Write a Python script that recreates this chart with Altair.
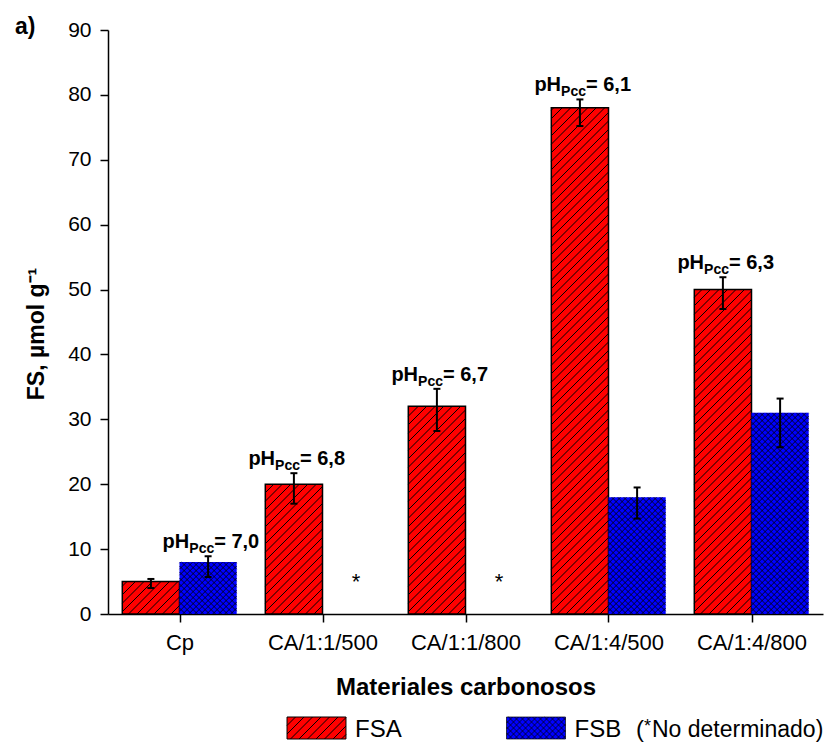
import json
import altair as alt
import pandas as pd

# ---------------- data ----------------
categories = ["Cp", "CA/1:1/500", "CA/1:1/800", "CA/1:4/500", "CA/1:4/800"]
series = ["FSA", "FSB"]

fsa_values = [5.0, 20.0, 32.0, 78.0, 50.0]
fsa_err_low = [4.0, 17.0, 28.2, 75.2, 47.0]
fsa_err_high = [5.4, 21.7, 34.7, 79.3, 51.9]

fsb_values = [8.0, None, None, 18.0, 31.0]
fsb_err_low = [5.7, None, None, 14.7, 25.7]
fsb_err_high = [8.9, None, None, 19.5, 33.2]

ph_values = ["7,0", "6,8", "6,7", "6,1", "6,3"]
ph_series = ["FSB", "FSA", "FSA", "FSA", "FSA"]

y_ticks = [0, 10, 20, 30, 40, 50, 60, 70, 80, 90]

# legend text pieces: (series, text, dx from swatch centre, font size, dy)
legend_texts = [
    ("FSA", "FSA", 38.5, 24, 0),
    ("FSB", "FSB", 38.5, 24, 0),
    ("FSB", "(", 100, 24, 0),
    ("FSB", "*", 108, 18, -5),
    ("FSB", "No determinado)", 116, 23, 0),
]

# ---------------- styling ----------------
FONT = "Liberation Sans"
PLOT_W, PLOT_H = 715, 584
Y_MAX = 90
PX_X = PLOT_W / len(categories)
PX_Y = PLOT_H / Y_MAX
BAR_W = 0.4
RED, BLUE = "#ff0000", "#0000ff"
SWATCH_SIZE = 1936  # symbol scale = sqrt(size)/2 = 22 px per unit
HATCH = {"FSA": (8.5, False), "FSB": (6.0, True)}
COLORS = {"FSA": RED, "FSB": BLUE}

# ---------------- tables built from the data ----------------
rows = []
for i, cat in enumerate(categories):
    for s, vals, lo, hi, off in (
        ("FSA", fsa_values, fsa_err_low, fsa_err_high, 0.5 - BAR_W),
        ("FSB", fsb_values, fsb_err_low, fsb_err_high, 0.5),
    ):
        if vals[i] is None:
            continue
        left = i + off
        rows.append(dict(cat=cat, idx=i, series=s, value=vals[i], lo=lo[i], hi=hi[i],
                         left=left, right=left + BAR_W, center=left + BAR_W / 2, base=0.0))
bars = pd.DataFrame(rows)

missing = pd.DataFrame([dict(cat=c, center=i + 0.5 + BAR_W / 2, base=0.0)
                        for i, c in enumerate(categories) if fsb_values[i] is None])

lab_rows = []
for i, c in enumerate(categories):
    r = bars[(bars.idx == i) & (bars.series == ph_series[i])].iloc[0]
    lab_rows.append(dict(cat=c, center=r.center, yhi=r.hi, ph="= " + ph_values[i]))
labels = pd.DataFrame(lab_rows)


def hatch_segments(left, value, s):
    W = BAR_W * PX_X
    H = value * PX_Y
    spacing, cross = HATCH[s]
    dirs = (1, -1) if cross else (1,)
    out = []
    for d in dirs:
        k = 1
        while True:
            if d == 1:
                c = -W + k * spacing
                if c >= H:
                    break
                u0, u1 = max(0.0, -c), min(W, H - c)
                v0, v1 = u0 + c, u1 + c
            else:
                c = k * spacing
                if c >= W + H:
                    break
                u0, u1 = max(0.0, c - H), min(W, c)
                v0, v1 = c - u0, c - u1
            if u1 - u0 > 0.3:
                out.append(dict(series=s, hx=left + u0 / PX_X, hx2=left + u1 / PX_X,
                                hy=v0 / PX_Y, hy2=v1 / PX_Y))
            k += 1
    return out


hatch = pd.DataFrame([seg for _, r in bars.iterrows()
                      for seg in hatch_segments(r.left, r.value, r.series)])


def swatch_path(spacing_px, cross, a=1.34, b=0.5):
    unit = (SWATCH_SIZE ** 0.5) / 2
    sp = spacing_px / unit
    h = 2 * b
    parts = [f"M{-a},{-b}H{a}V{b}H{-a}Z"]
    dirs = (1, -1) if cross else (1,)
    for d in dirs:
        x = -a - h + sp
        while x < a:
            t0, t1 = max(0.0, -a - x), min(h, a - x)
            if t1 > t0:
                if d == 1:
                    p0, p1 = (x + t0, b - t0), (x + t1, b - t1)
                else:
                    p0, p1 = (x + t0, -b + t0), (x + t1, -b + t1)
                parts.append(f"M{p0[0]:.3f},{p0[1]:.3f}L{p1[0]:.3f},{p1[1]:.3f}")
            x += sp
    return "".join(parts)


# ---------------- scales & axes ----------------
xs = alt.Scale(domain=[0, len(categories)], nice=False, zero=False)
ys = alt.Scale(domain=[0, Y_MAX], nice=False, zero=True)

x_axis = alt.Axis(
    values=[i + 0.5 for i in range(len(categories))],
    labelExpr=f"{json.dumps(categories)}[floor(datum.value)]",
    title="Materiales carbonosos", grid=False, tickSize=8, labelPadding=10,
    labelFontSize=22, labelFlush=False, titleFontSize=24, titleFontWeight="bold",
    titleX=PLOT_W / 2, titleY=80, titleAlign="center", titleBaseline="alphabetic",
)
y_axis = alt.Axis(
    values=y_ticks, format="d", title="FS, µmol g⁻¹", grid=False, tickSize=8,
    labelPadding=9, labelFontSize=21, labelFlush=False, titleFontSize=23,
    titleFontWeight="bold", titleAngle=270, titleX=-65, titleY=303.5,
    titleAlign="center", titleBaseline="alphabetic",
)


def X(f):
    return alt.X(f, type="quantitative", scale=xs, axis=x_axis)


def Y(f):
    return alt.Y(f, type="quantitative", scale=ys, axis=y_axis)


# ---------------- layers ----------------
bar_layer = alt.Chart(bars).mark_rect(stroke="black").encode(
    x=X("left"), x2="right", y=Y("value"), y2="base",
    fill=alt.Fill("series:N", scale=alt.Scale(domain=series, range=[RED, BLUE]), legend=None),
    strokeWidth=alt.condition(alt.datum.series == "FSA", alt.value(1.5), alt.value(0)),
)

hatch_layer = alt.Chart(hatch).mark_rule(color="black").encode(
    x=X("hx"), x2="hx2", y=Y("hy"), y2="hy2",
    strokeWidth=alt.condition(alt.datum.series == "FSA", alt.value(1.0), alt.value(0.8)),
)

err_rule = alt.Chart(bars).mark_rule(color="black", strokeWidth=2).encode(
    x=X("center"), y=Y("lo"), y2="hi"
)
cap_lo = alt.Chart(bars).mark_tick(orient="horizontal", size=7, thickness=2, color="black", opacity=1).encode(
    x=X("center"), y=Y("lo")
)
cap_hi = alt.Chart(bars).mark_tick(orient="horizontal", size=7, thickness=2, color="black", opacity=1).encode(
    x=X("center"), y=Y("hi")
)

txt = dict(font=FONT, fontWeight="bold", color="black", align="left", baseline="alphabetic")
ph_main = alt.Chart(labels).mark_text(fontSize=20, dx=-45.5, dy=-8, **txt).encode(
    x=X("center"), y=Y("yhi"), text=alt.value("pH"))
ph_sub = alt.Chart(labels).mark_text(fontSize=14, dx=-18.8, dy=-3, **txt).encode(
    x=X("center"), y=Y("yhi"), text=alt.value("Pcc"))
ph_val = alt.Chart(labels).mark_text(fontSize=20, dx=6.1, dy=-8, **txt).encode(
    x=X("center"), y=Y("yhi"), text="ph:N")

star = alt.Chart(missing).mark_text(font=FONT, fontSize=22, color="black", dx=5, dy=-25,
                                   align="center", baseline="alphabetic").encode(
    x=X("center"), y=Y("base"), text=alt.value("*"))

panel_tag = alt.Chart(pd.DataFrame({"t": ["a)"]})).mark_text(
    font=FONT, fontSize=23, fontWeight="bold", color="black", align="left", baseline="alphabetic"
).encode(x=alt.value(-93), y=alt.value(4), text="t:N")

# legend, drawn as hatched swatch symbols + labels below the axis title
legend_layers = []
legend_pos = {"FSA": (208.5, 698.0), "FSB": (428.0, 698.0)}  # swatch centres (px, in plot coords)
for s in series:
    cx, cy = legend_pos[s]
    spacing, cross = HATCH[s]
    legend_layers.append(
        alt.Chart(pd.DataFrame({"series": [s]})).mark_point(
            filled=True, opacity=1, fill=COLORS[s], stroke="black",
            strokeWidth=1 if s == "FSA" else 0.7, size=SWATCH_SIZE,
            shape=swatch_path(spacing, cross)).encode(x=alt.value(cx), y=alt.value(cy))
    )
for s, text, dx, fs, dy in legend_texts:
    cx, cy = legend_pos[s]
    legend_layers.append(
        alt.Chart(pd.DataFrame({"label": [text]})).mark_text(
            font=FONT, fontSize=fs, color="black", align="left", baseline="alphabetic").encode(
            x=alt.value(cx + dx), y=alt.value(cy + 9 + dy), text="label:N")
    )

chart = alt.layer(
    bar_layer, hatch_layer, err_rule, cap_lo, cap_hi,
    ph_main, ph_sub, ph_val, star, panel_tag, *legend_layers,
).properties(
    width=PLOT_W, height=PLOT_H,
    autosize=alt.AutoSizeParams(type="none"),
    padding={"left": 100, "top": 22, "right": 5, "bottom": 130},
).configure_view(strokeWidth=0).configure_axis(
    domainColor="black", tickColor="black", labelColor="black", titleColor="black",
    domainWidth=1.5, tickWidth=1.5, labelFont=FONT, titleFont=FONT,
)

chart.save("out.html", embed_options={"renderer": "svg", "actions": False})
